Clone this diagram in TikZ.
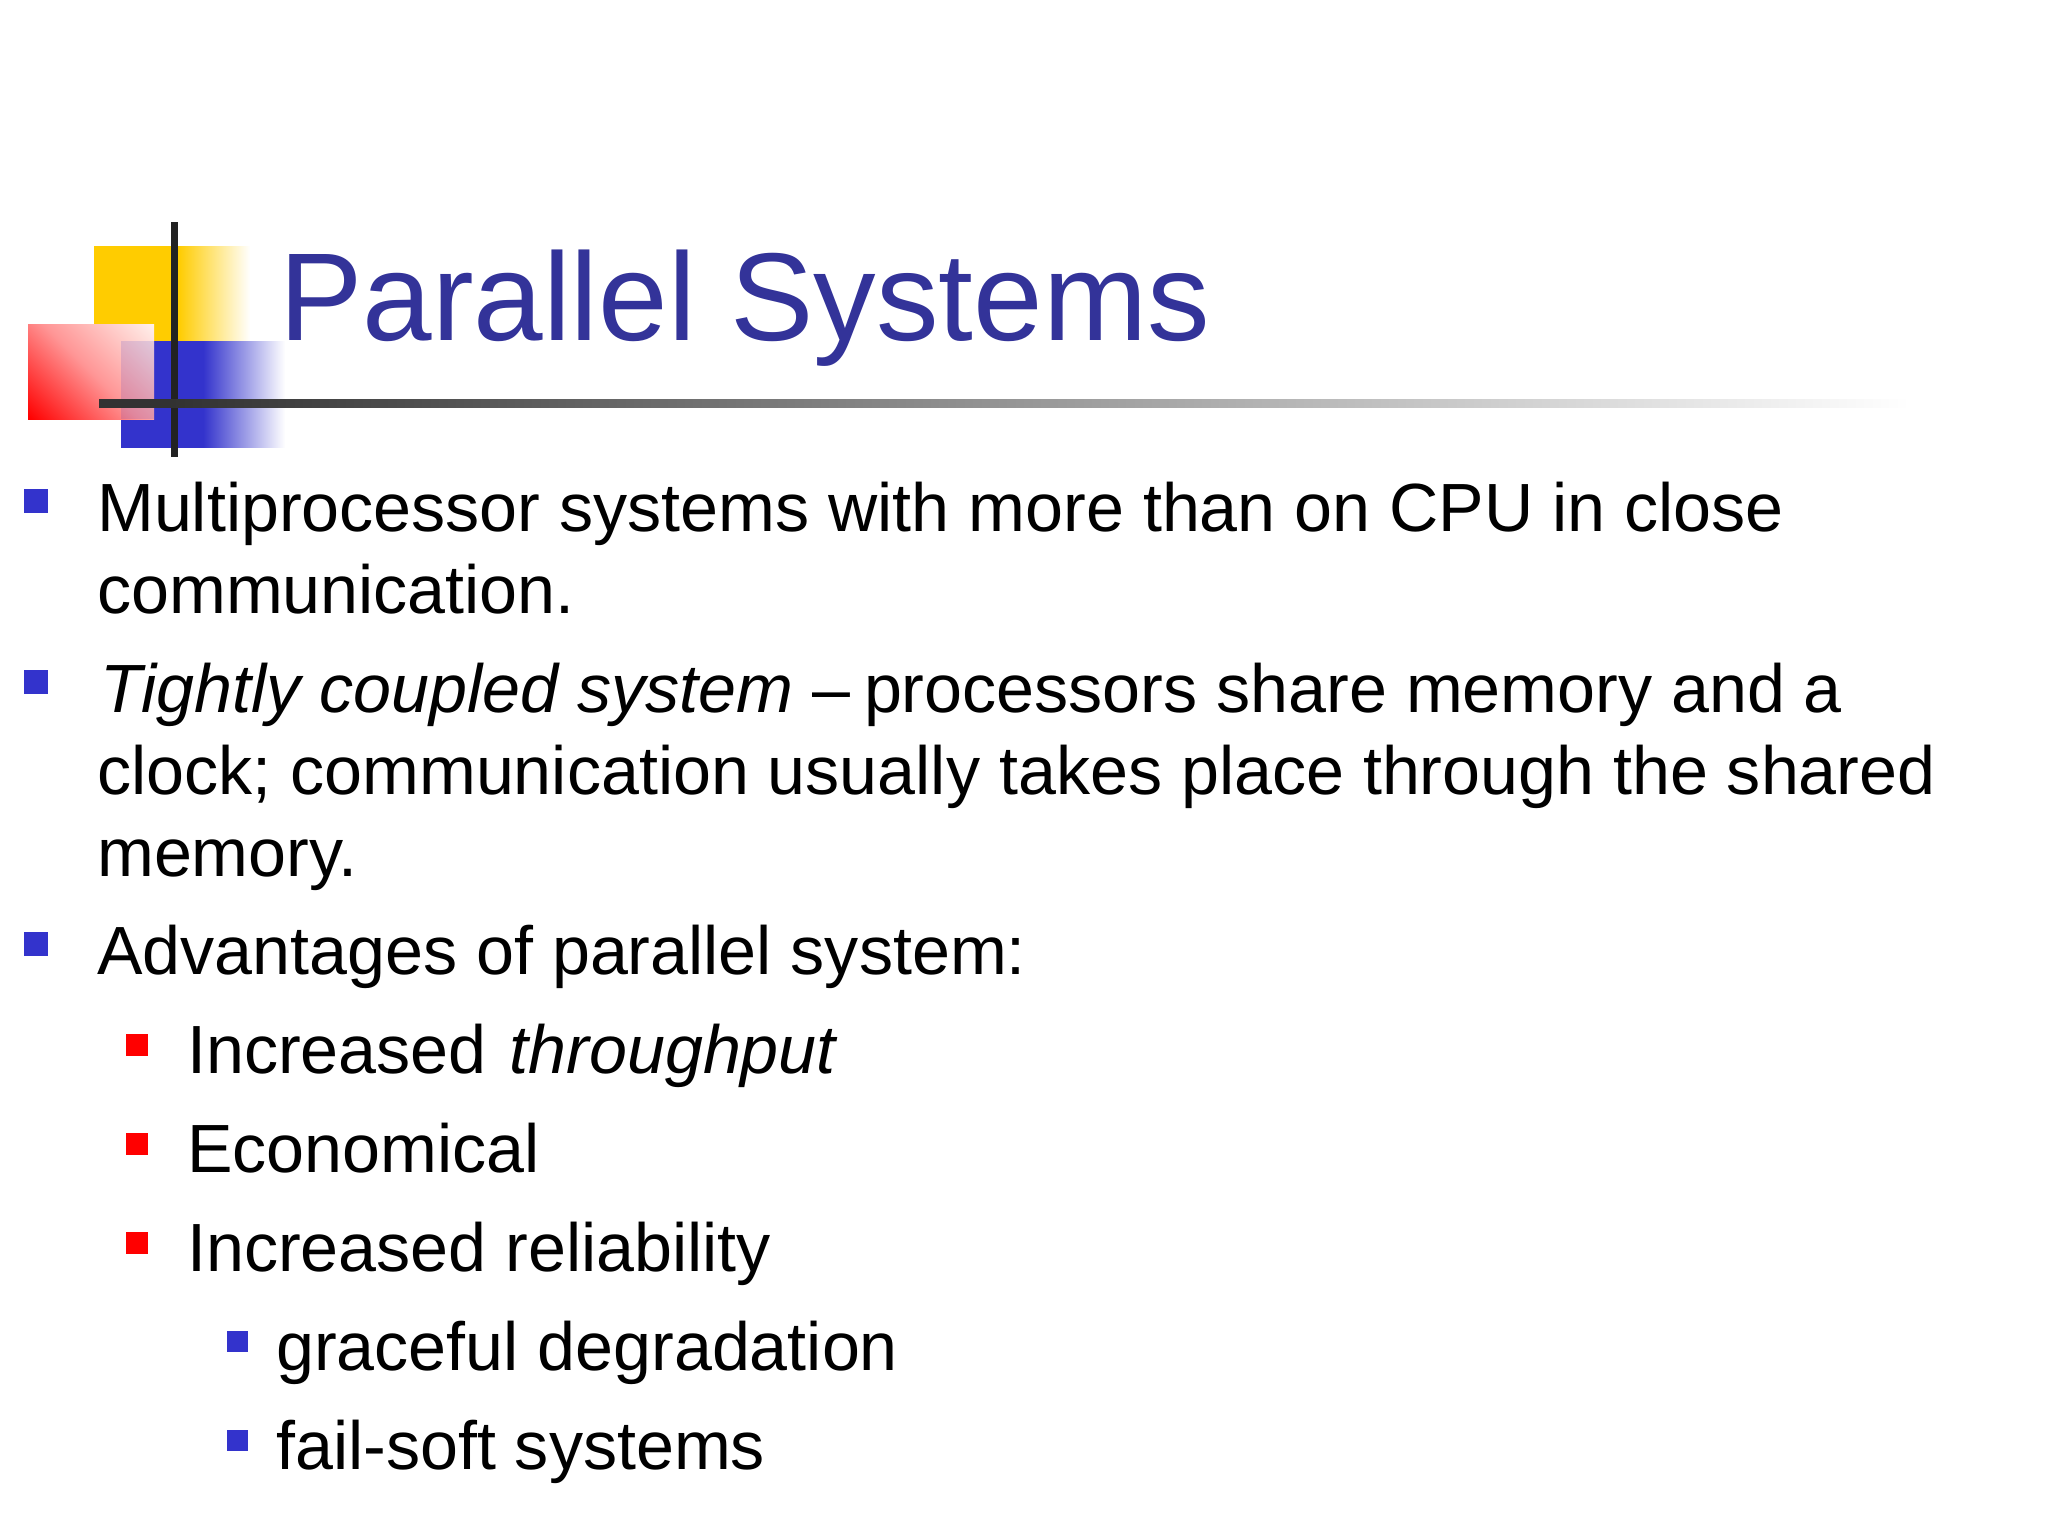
\documentclass[tikz,border=0pt]{standalone}
\usepackage{fontspec}
\setmainfont{Liberation Sans}
\definecolor{tblue}{RGB}{51,51,153}
\definecolor{bblue}{RGB}{51,51,204}
\definecolor{yel}{RGB}{255,204,0}
\definecolor{rd}{RGB}{255,0,0}
\definecolor{rdmid}{RGB}{255,150,150}
\definecolor{rdend}{RGB}{255,240,235}
\definecolor{barblack}{RGB}{34,34,34}
\definecolor{bardark}{RGB}{50,50,50}
\pgfdeclarehorizontalshading{yelfade}{100bp}{color(0bp)=(yel); color(52bp)=(yel); color(75bp)=(white); color(100bp)=(white)}
\pgfdeclarehorizontalshading{bluefade}{100bp}{color(0bp)=(bblue); color(50bp)=(bblue); color(75bp)=(white); color(100bp)=(white)}
\pgfdeclarehorizontalshading{linefade}{100bp}{color(0bp)=(bardark); color(27bp)=(bardark); color(75bp)=(white); color(100bp)=(white)}
\pgfdeclarehorizontalshading{redfade}{100bp}{color(0bp)=(rd); color(15bp)=(rd); color(50bp)=(rdmid); color(85bp)=(rdend); color(100bp)=(rdend)}
\tikzset{x=1pt,y=-1pt,
 body/.style={anchor=base west,inner sep=0pt,font=\fontsize{68.2}{68.2}\selectfont,text=black},
 lvlone/.style={fill=bblue,draw=none},
 lvltwo/.style={fill=rd,draw=none},
}
\begin{document}
\begin{tikzpicture}
\useasboundingbox (0,0) rectangle (2048,1536);
\fill[white] (0,0) rectangle (2048,1536);
\shade[shading=yelfade] (94,246) rectangle (250,341);
\shade[shading=bluefade] (121,341) rectangle (285,447);
\shade[shading=redfade,shading angle=45] (28,324) rectangle (154,419);
\fill[bblue,opacity=.15] (121,341) rectangle (154,419);
\fill[barblack] (171,222) rectangle (178,457);
\shade[shading=linefade] (99,399) rectangle (1910,407);
\node[anchor=base west,inner sep=0pt,font=\fontsize{125}{125}\selectfont,text=tblue] (title) at (279,340) {Parallel Systems};
\fill[lvlone] (24,489) rectangle (48,513);
\node[body] (t1) at (97,531) {Multiprocessor systems with more than on CPU in close};
\node[body] (t1b) at (97,613) {communication.};
\fill[lvlone] (24,670) rectangle (48,694);
\node[body] (t2) at (100,712) {\itshape Tightly coupled system\upshape\ –\hspace{-5pt} processors share memory and a};
\node[body] (t2b) at (97,794) {clock; communication usually takes place through the shared};
\node[body] (t2c) at (97,876) {memory.};
\fill[lvlone] (24,932) rectangle (48,956);
\node[body] (t3) at (97,974) {Advantages of parallel system:};
\fill[lvltwo] (126,1034) rectangle (148,1056);
\node[body] (a1) at (187,1073) {Increased \hspace{4pt}\itshape throughput};
\fill[lvltwo] (126,1133) rectangle (148,1155);
\node[body] (a2) at (187,1172) {Economical};
\fill[lvltwo] (126,1232) rectangle (148,1254);
\node[body] (a3) at (187,1271) {Increased reliability};
\fill[lvlone] (227,1331) rectangle (248,1352);
\node[body] (b1) at (276,1370) {graceful degradation};
\fill[lvlone] (227,1430) rectangle (248,1451);
\node[body] (b2) at (276,1469) {fail-soft systems};
\end{tikzpicture}
\end{document}
